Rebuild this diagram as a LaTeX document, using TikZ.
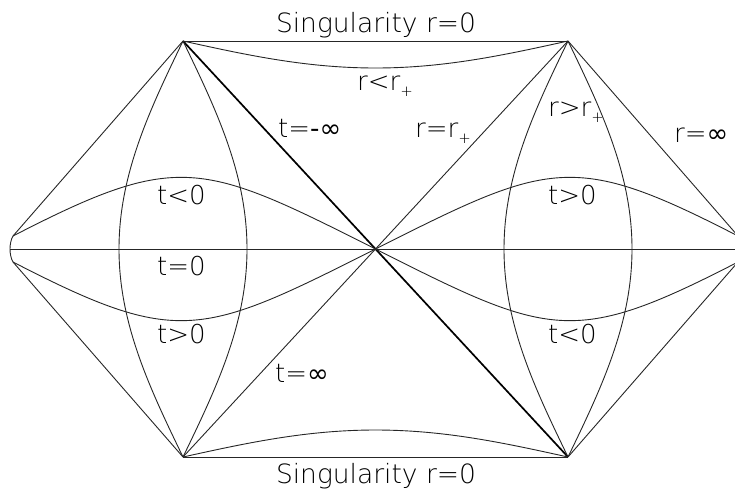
\documentclass[tikz,border=0pt]{standalone}
\usepackage{fontspec}
\IfFontExistsTF{DejaVu Sans ExtraLight}{\setmainfont{DejaVu Sans ExtraLight}}{\setmainfont{DejaVu Sans}}
\newfontfamily\symfont{DejaVu Sans}
\newcommand{\sbp}{\raisebox{-6.5pt}{\fontsize{15}{15}\selectfont +}}
\newcommand{\infy}{{\symfont ∞}}
\tikzset{
  thinline/.style={line width=0.9pt, black!85},
  thickline/.style={line width=1.7pt, black},
  lbl/.style={inner sep=0pt, anchor=base west, font=\fontsize{26}{30}\selectfont},
  lblc/.style={inner sep=0pt, anchor=base, font=\fontsize{26.5}{30}\selectfont},
}
\begin{document}
\begin{tikzpicture}[x=1pt,y=-1pt]
\useasboundingbox (0,0) rectangle (735,493);
\clip (0,0) rectangle (735,493);
\coordinate (TL) at (183,41);
\coordinate (TR) at (568,41);
\coordinate (BL) at (183,457);
\coordinate (BR) at (568,457);
\coordinate (C) at (375.5,249);
\coordinate (LU) at (13,236);
\coordinate (LD) at (13,262);
\coordinate (LM) at (10,249);
\coordinate (RU) at (738,236);
\coordinate (RD) at (738,262);
\coordinate (RM) at (741,249);
% boundaries
\draw[thinline] (TL) -- (TR);
\draw[thinline] (BL) -- (BR);
\draw[thinline] (TL) -- (LU);
\draw[thinline] (BL) -- (LD);
\draw[thinline] (TR) -- (RU);
\draw[thinline] (BR) -- (RD);
\draw[thinline] (LU) .. controls (9,243) and (9,255) .. (LD);
\draw[thinline] (RU) .. controls (742,243) and (742,255) .. (RD);
\draw[thinline] (LM) -- (RM);
% horizons
\draw[thickline] (TL) -- (C) -- (BR);
\draw[thinline] (TR) -- (C) -- (BL);
% constant t curves
\draw[thinline] (LU) .. controls (178,151) and (201,161) .. (C);
\draw[thinline] (LD) .. controls (178,347) and (201,337) .. (C);
\draw[thinline] (RU) .. controls (573,151) and (550,161) .. (C);
\draw[thinline] (RD) .. controls (573,347) and (550,337) .. (C);
% constant r curves
\draw[thinline] plot[domain=0:1, samples=90, smooth] ({183-64*sin(180*\x)}, {41+416*\x});
\draw[thinline] plot[domain=0:1, samples=90, smooth] ({183+64*sin(180*\x)}, {41+416*\x});
\draw[thinline] plot[domain=0:1, samples=90, smooth] ({568-64*sin(180*\x)}, {41+416*\x});
\draw[thinline] plot[domain=0:1, samples=90, smooth] ({568+64*sin(180*\x)}, {41+416*\x});
\draw[thinline] plot[domain=0:1, samples=90, smooth] ({183+385*\x}, {41+27*sin(180*\x)});
\draw[thinline] plot[domain=0:1, samples=90, smooth] ({183+385*\x}, {457-27*sin(180*\x)});
% labels
\node[lblc] (stop) at (376,32) {Singularity r=0};
\node[lblc] (sbot) at (376,483) {Singularity r=0};
\node[lbl] (rin) at (357,90) {r<r\sbp};
\node[lbl] (tmi) at (278,137) {t={\symfont -}\infy};
\node[lbl] (rhor) at (415,137) {r=r\sbp};
\node[lbl] (rout) at (548,116) {r>r\sbp};
\node[lbl] (rinf) at (674,142) {r=\infy};
\node[lbl] (tl1) at (157,204) {t<0};
\node[lbl] (t0) at (157,275) {t=0};
\node[lbl] (tl2) at (157,343) {t>0};
\node[lbl] (tr1) at (548,204) {t>0};
\node[lbl] (tr2) at (548,343) {t<0};
\node[lbl] (tinf) at (275,382) {t=\infy};
\end{tikzpicture}
\end{document}
